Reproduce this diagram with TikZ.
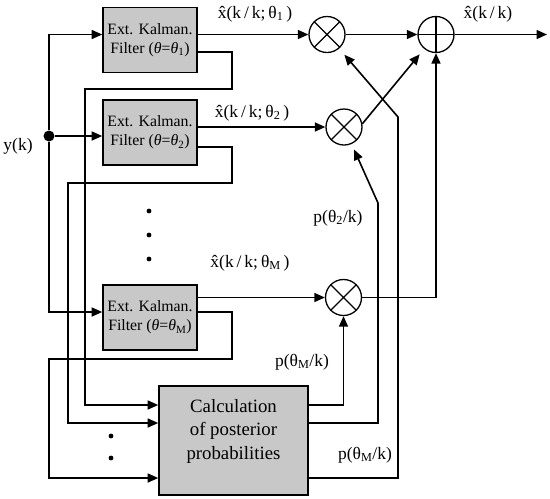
\documentclass[tikz,border=0pt]{standalone}
\usepackage{fontspec}
\setmainfont{Liberation Serif}
\usetikzlibrary{arrows.meta,calc}
\definecolor{boxgray}{RGB}{200,200,200}
\begin{document}
\begin{tikzpicture}[x=1pt,y=-1pt,
  line width=1.6pt,
  arr/.style={-{Triangle[length=10.5pt,width=9pt]}},
  filt/.style={draw, fill=boxgray, minimum width=94pt, minimum height=65pt, inner sep=0pt, align=center, font=\fontsize{15.8}{19}\selectfont},
  calcbox/.style={draw, fill=boxgray, minimum width=149pt, minimum height=109pt, inner sep=0pt},
  calctext/.style={align=center, font=\fontsize{18.8}{23.5}\selectfont, inner sep=0pt},
  mult/.style={circle, draw, minimum size=36pt, inner sep=0pt, line width=1.3pt,
    path picture={\draw[line width=1.1pt] (path picture bounding box.north west) -- (path picture bounding box.south east)
      (path picture bounding box.north east) -- (path picture bounding box.south west);}},
  summ/.style={circle, draw, minimum size=36pt, inner sep=0pt, line width=1.3pt,
    path picture={\draw[line width=1.1pt] (path picture bounding box.north) -- (path picture bounding box.south)
      (path picture bounding box.east) -- (path picture bounding box.west);}},
  lab/.style={font=\fontsize{17.5}{20}\selectfont, inner sep=0pt},
  dot/.style={circle, fill, inner sep=0pt, minimum size=4.8pt},
  junc/.style={circle, fill, inner sep=0pt, minimum size=11pt}
]
\useasboundingbox (0,0) rectangle (550,499);

% blocks
\node[filt] (f1) at (150,40) {Ext. Kalman.\\Filter (\textit{θ}=\textit{θ}\textsubscript{1})};
\node[filt] (f2) at (150,132.5) {Ext. Kalman.\\Filter (\textit{θ}=\textit{θ}\textsubscript{2})};
\node[filt] (fM) at (150,317.5) {Ext. Kalman.\\Filter (\textit{θ}=\textit{θ}\textsubscript{M})};
\node[calcbox] (calc) at (233.5,440.5) {};
\node[calctext] (calct) at (233.5,431) {Calculation\\of posterior\\probabilities};

\node[mult] (m1) at (327,34.5) {};
\node[mult] (m2) at (344,127) {};
\node[mult] (mM) at (343.5,297.5) {};
\node[summ] (sum) at (436,34.5) {};
\coordinate (out) at (547,34.5);

\node[junc] (J) at (49,136) {};
\coordinate (yM) at (0,312);
\node[lab] (yk) at (18,146) {y(k)};

% dots
\node[dot] (d1) at (149,211) {};
\node[dot] (d2) at (149,235) {};
\node[dot] (d3) at (149,259) {};
\node[dot] (d4) at (111,436) {};
\node[dot] (d5) at (111,458) {};

% inputs
\draw[arr] (J) |- (f1.west |- m1);
\draw[arr] (J) -- (f2.west |- J);
\draw[arr] (J) |- (fM.west |- yM);

% estimates
\draw[arr] (f1.east |- m1) -- (m1);
\draw[arr] (f2.east |- m2) -- (m2);
\draw[arr] (fM.east |- mM) -- (mM);
\node[lab] (l1) at (255,14) {\^{x}(k\,/\,k;\,θ\textsubscript{1}\,)};
\node[lab] (l2) at (252,113) {\^{x}(k\,/\,k;\,θ\textsubscript{2}\,)};
\node[lab] (lM) at (250,263) {\^{x}(k\,/\,k;\,θ\textsubscript{M}\,)};

% feedback to calculation
\draw[arr] ([yshift=-12pt]f1.east) -| (232,89) -| (85,405) -- ([yshift=35.5pt]calc.west);
\draw[arr] ([yshift=-14.5pt]f2.east) -| (232,183) -| (68,423) -- ([yshift=17.5pt]calc.west);
\draw[arr] ([yshift=5.5pt]fM.east) -| (232,359) -| (49,478) -- ([yshift=-37.5pt]calc.west);

% probabilities
\draw[arr] ([yshift=35.5pt]calc.east) -| (mM);
\draw[arr, shorten >=6pt] ([yshift=17.5pt]calc.east) -| (378,203) -- (m2);
\draw[arr, shorten >=8pt] ([yshift=-37.5pt]calc.east) -| (398,117) -- (m1);
\node[lab] (pM) at (302,362) {p(θ\textsubscript{M}/k)};
\node[lab] (p2) at (338,218) {p(θ\textsubscript{2}/k)};
\node[lab] (p1) at (365,455) {p(θ\textsubscript{M}/k)};

% summation
\draw[arr] (m1) -- (sum);
\draw[arr, shorten >=7pt] (m2.10) -- (sum);
\draw[arr] (mM) -| (sum);
\draw[arr] (sum) -- (out);
\node[lab] (lo) at (488,14) {\^{x}(k\,/\,k)};
\end{tikzpicture}
\end{document}
